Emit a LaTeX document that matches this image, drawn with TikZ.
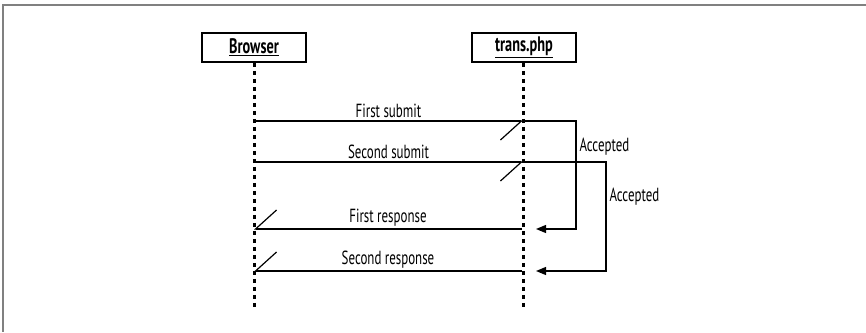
\documentclass[tikz,border=0pt]{standalone}
\usepackage{fontspec}
\setmainfont{PT Sans}[FakeStretch=0.68]
\usetikzlibrary{positioning,arrows.meta}

\begin{document}
\begin{tikzpicture}
    [x=1pt, y=-1pt, font=\fontsize{19}{22}\selectfont,
    actor/.style={draw, line width=1.8pt, minimum width=104pt,
    minimum height=29pt, inner sep=0pt,
    font=\fontsize{21}{24}\selectfont\bfseries},
    lifeline/.style={line width=3pt, dash pattern=on 4.5pt off 3.5pt},
    message/.style={line width=1.2pt,
    -{Straight Barb[harpoon, swap, length=21pt, width=38pt, line width=1.2pt]}},
    callback/.style={line width=1.2pt, -{Triangle[length=10pt, width=8pt]}},
    msglabel/.style={midway, above=-1pt}]
    \useasboundingbox (0,0) rectangle (866,332);
    \draw[gray, line width=2.5pt] (866,5) -- (3,5) -- (3,332);
    \node[actor] (browser) at (254,47.5) {\underline{Browser}};
    \node[actor] (trans) at (524,47.5) {\underline{trans.php}};
    \coordinate (browserEnd) at (254,310);
    \coordinate (transEnd) at (523,310);
    \draw[lifeline] (browser) -- (browserEnd);
    \draw[lifeline] (trans.south -| transEnd) -- (transEnd);
    \path (254,121) coordinate (submitA) (523,121) coordinate (submitB)
          (254,162) coordinate (resubmitA) (523,162) coordinate (resubmitB)
          (522,229) coordinate (responseA) (254,229) coordinate (responseB)
          (522,271) coordinate (reresponseA) (254,271) coordinate (reresponseB)
          (576,147) coordinate (loop1) (606,197) coordinate (loop2)
          (536,229) coordinate (back1) (536,271) coordinate (back2);
    \draw[message] (submitA) -- (submitB) node[msglabel] {First submit};
    \draw[message] (resubmitA) -- (resubmitB) node[msglabel] {Second submit};
    \draw[message] (responseA) -- (responseB) node[msglabel] {First response};
    \draw[message] (reresponseA) -- (reresponseB) node[msglabel] {Second response};
    \draw[callback] (submitB) -| (loop1) |- (back1);
    \draw[callback] (resubmitB) -| (loop2) |- (back2);
    \node[right=0pt of loop1] (accepted1) {Accepted};
    \node[right=0pt of loop2] (accepted2) {Accepted};
\end{tikzpicture}
\end{document}
